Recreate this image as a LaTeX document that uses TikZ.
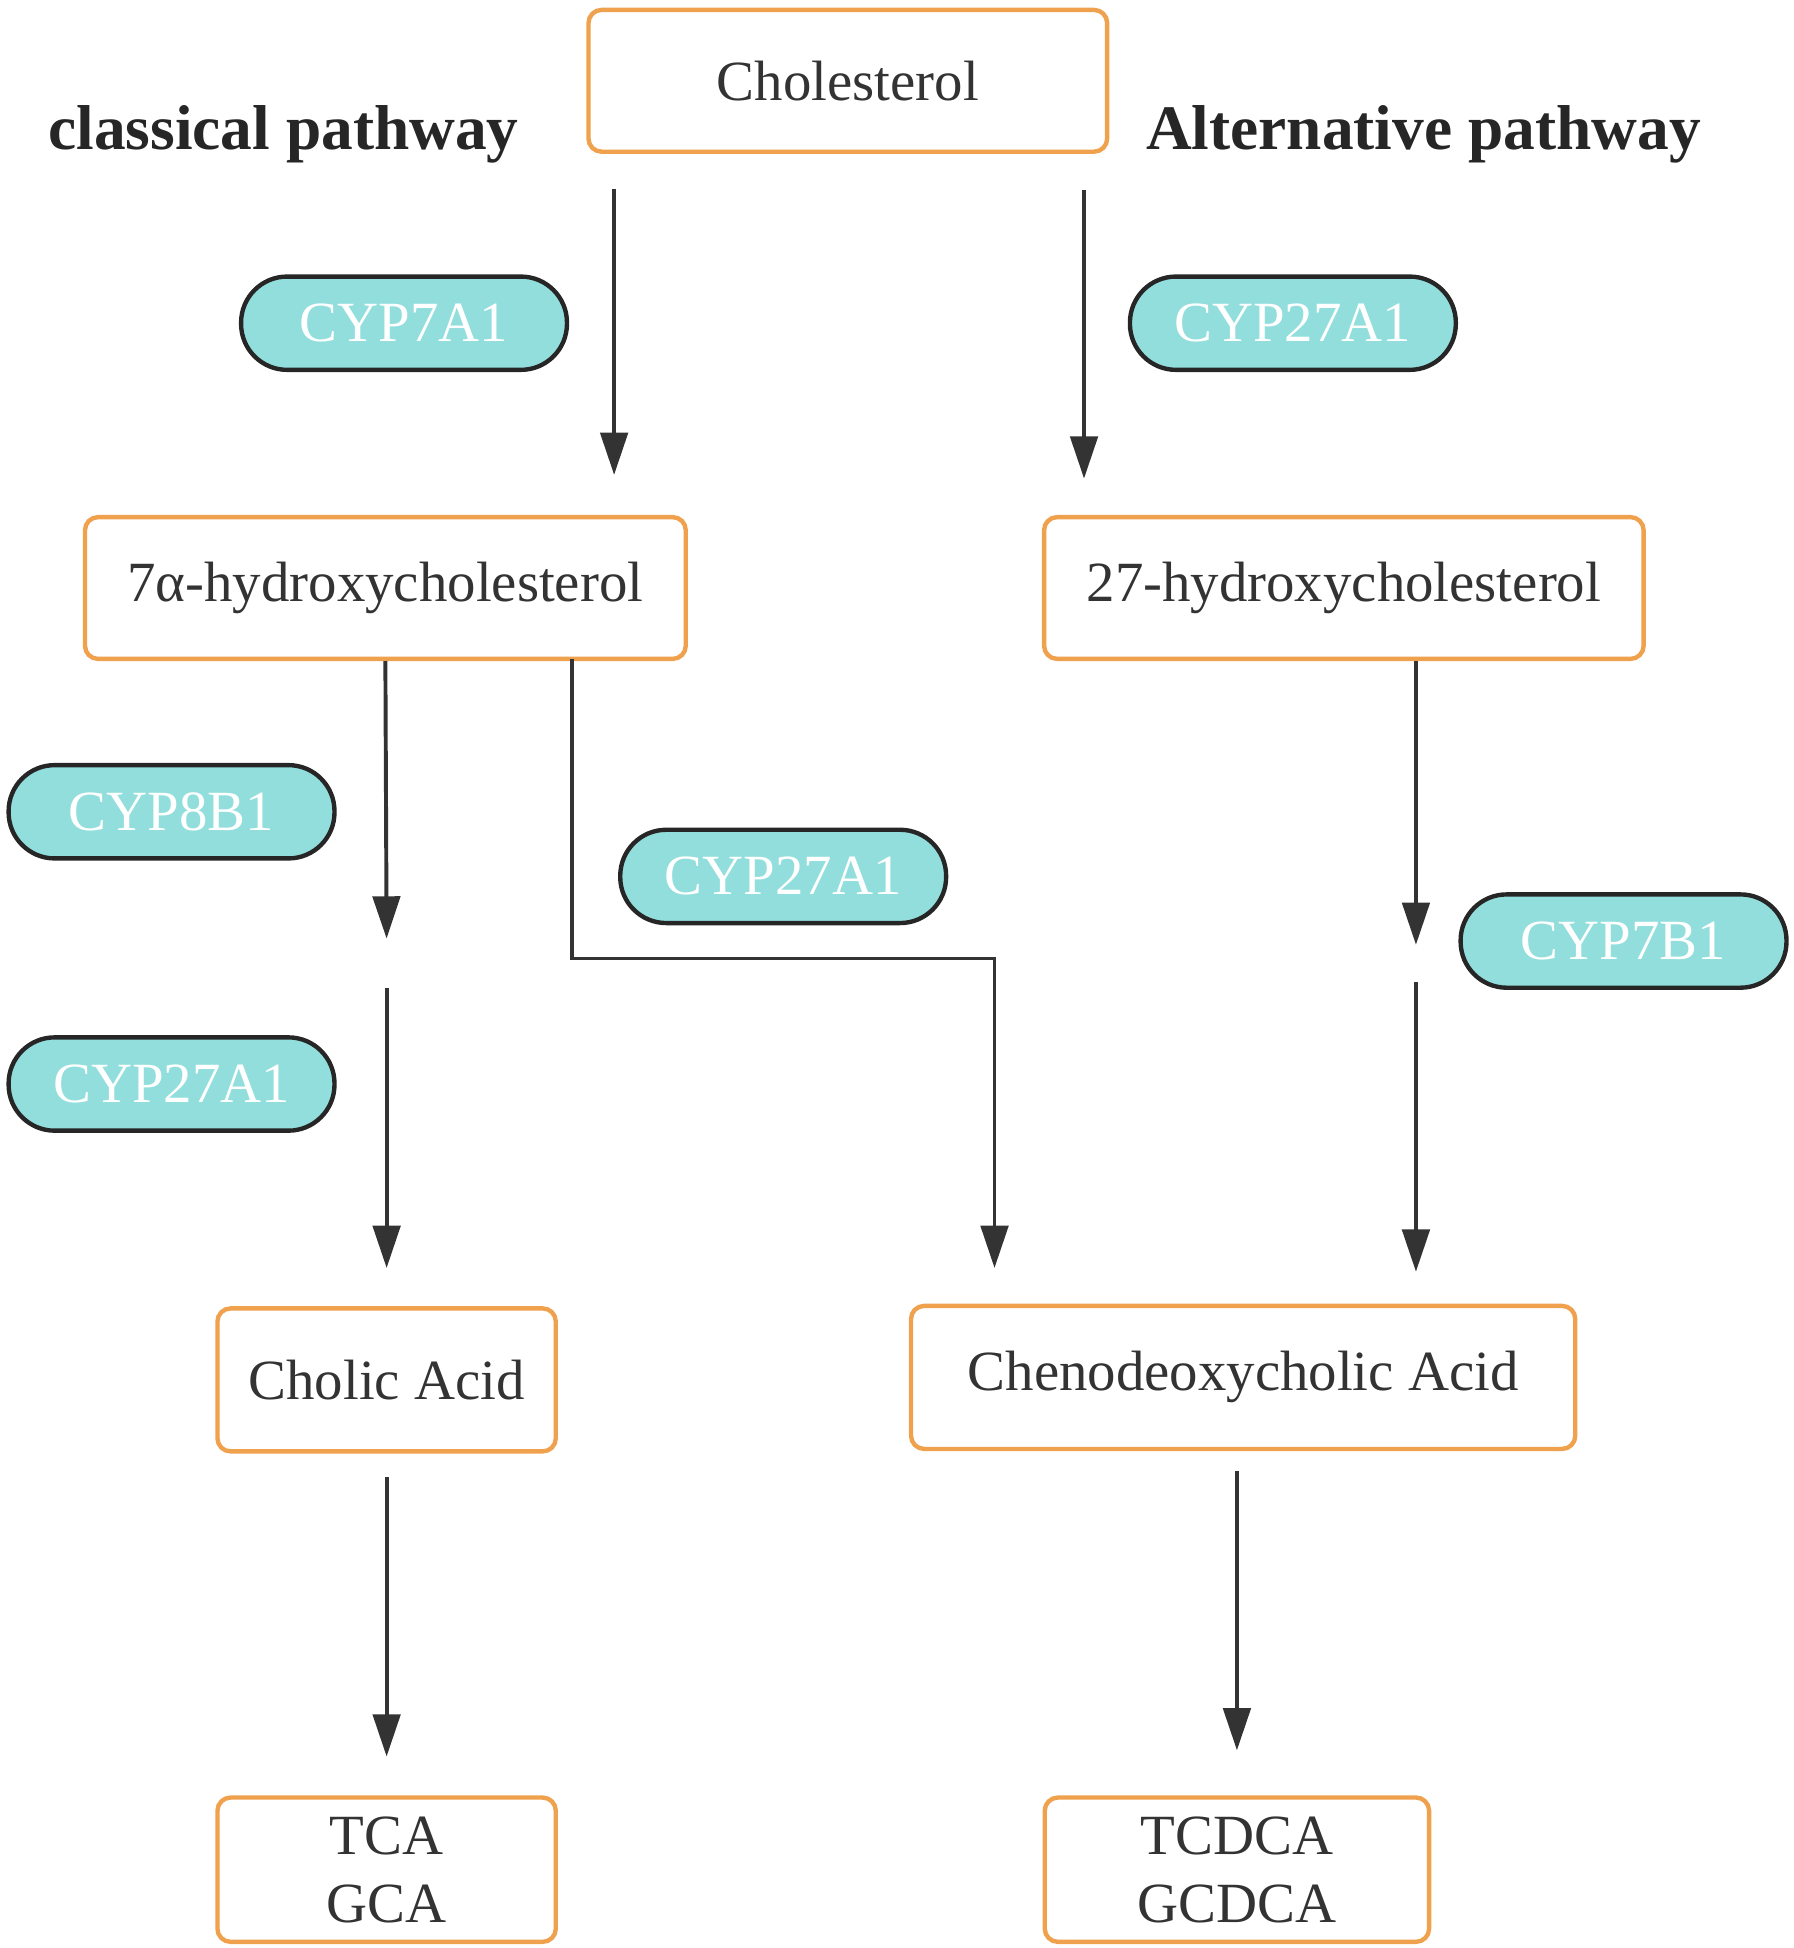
\documentclass[tikz,border=0pt]{standalone}
\usepackage{fontspec}
\setmainfont{Liberation Serif}
\usetikzlibrary{arrows.meta,positioning}
\definecolor{boxorange}{HTML}{F0A14E}
\definecolor{enzteal}{HTML}{92DEDD}
\definecolor{linegray}{HTML}{333333}
\tikzset{
  compound/.style={draw=boxorange, line width=1pt, rounded corners=3pt, fill=white,
    font=\fontsize{13}{15.6}\selectfont, text=black!80, align=center, inner sep=0pt},
  enzyme/.style={draw=black!85, line width=1pt, rounded corners=0.37cm, fill=enzteal,
    font=\fontsize{13}{15.6}\selectfont, text=white, minimum width=2.62cm, minimum height=0.75cm, inner sep=0pt},
  flow/.style={draw=linegray, line width=0.9pt, -{Triangle[length=0.34cm,width=0.22cm]}},
  heading/.style={font=\fontsize{14.5}{17}\selectfont\bfseries, text=black!85}
}
\begin{document}
\begin{tikzpicture}[x=0.01cm,y=-0.01cm]
    \useasboundingbox (0,0) rectangle (1443,1567);
    % compounds
    \node[compound, minimum width=4.17cm, minimum height=1.14cm] (chol) at (682,65) {Cholesterol};
    \node[compound, minimum width=4.83cm, minimum height=1.14cm] (hydroxy7) at (310,473) {7α-hydroxycholesterol};
    \node[compound, minimum width=4.82cm, minimum height=1.14cm] (hydroxy27) at (1081,473) {27-hydroxycholesterol};
    \node[compound, minimum width=2.72cm, minimum height=1.15cm] (ca) at (311,1110) {Cholic Acid};
    \node[compound, minimum width=5.34cm, minimum height=1.15cm] (cdca) at (1000,1108) {Chenodeoxycholic Acid};
    \node[compound, minimum width=2.72cm, minimum height=1.16cm] (tca) at (311,1504) {TCA\\GCA};
    \node[compound, minimum width=3.09cm, minimum height=1.16cm] (tcdca) at (995,1504) {TCDCA\\GCDCA};
    % headings
    \node[heading] (classical) at (228,108) {classical pathway};
    \node[heading] (alternative) at (1145,108) {Alternative pathway};
    % enzymes
    \node[enzyme] (cyp7a1) at (325,260) {CYP7A1};
    \node[enzyme] (cyp27a1a) at (1040,260) {CYP27A1};
    \node[enzyme] (cyp8b1) at (138,653) {CYP8B1};
    \node[enzyme] (cyp27a1b) at (138,872) {CYP27A1};
    \node[enzyme] (cyp27a1c) at (630,705) {CYP27A1};
    \node[enzyme] (cyp7b1) at (1306,757) {CYP7B1};
    % free ends
    \coordinate (s1) at (494,152);  \coordinate (e1) at (494,382);
    \coordinate (s2) at (872,153);  \coordinate (e2) at (872,385);
    \coordinate (e3) at (311,755);  \coordinate (s4) at (311,795);
    \coordinate (e4) at (311,1020);
    \coordinate (s5) at (460,530);  \coordinate (e5) at (800,1020);
    \coordinate (e6) at (1139,760); \coordinate (s7) at (1139,790);
    \coordinate (e7) at (1139,1023);
    \coordinate (s8) at (311,1188); \coordinate (e8) at (311,1413);
    \coordinate (s9) at (995,1183); \coordinate (e9) at (995,1408);
    % connectors
    \draw[flow] (hydroxy7.south -| s1) ++(0,0) (s1) -- (e1);
    \draw[flow] (s2) -- (e2);
    \draw[flow] (hydroxy7.south) -- (e3);
    \draw[flow] (s4) -- (e4);
    \draw[flow] (s5) |- (630,771) -| (e5);
    \draw[flow] (hydroxy27.south -| e6) -- (e6);
    \draw[flow] (s7) -- (e7);
    \draw[flow] (s8) -- (e8);
    \draw[flow] (s9) -- (e9);
\end{tikzpicture}
\end{document}
